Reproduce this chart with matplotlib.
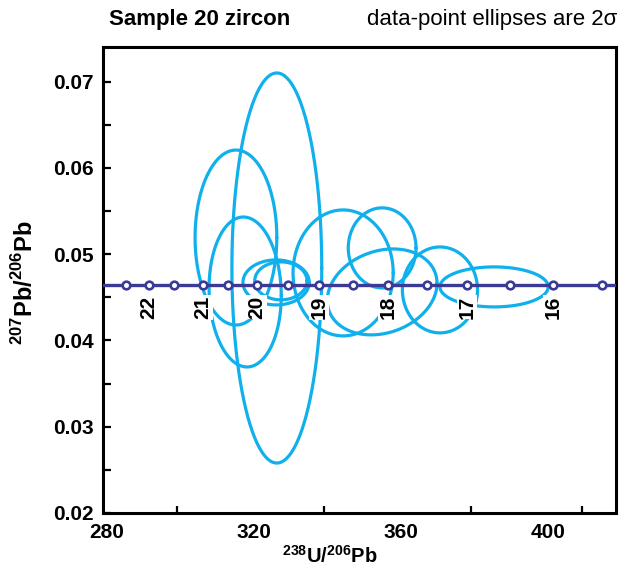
import numpy as np
import matplotlib
matplotlib.use("Agg")
import matplotlib.pyplot as plt
from matplotlib.transforms import ScaledTranslation

plt.rcParams['font.family'] = ['Liberation Sans', 'DejaVu Sans']
plt.rcParams['mathtext.fontset'] = 'custom'
plt.rcParams['mathtext.rm'] = 'Liberation Sans:bold'
plt.rcParams['mathtext.bf'] = 'Liberation Sans:bold'

# ---- data ----
title_left = "Sample 20 zircon"
title_right = "data-point ellipses are 2σ"

# concordia tick points (238U/206Pb) every 0.5 Ma, from 22.5 to 15.5 Ma
conc_x = [286.2, 292.5, 299.3, 307.2, 313.9, 321.8, 330.2, 338.6,
          347.9, 357.4, 368.0, 378.8, 390.5, 402.2, 415.5]
conc_y = 0.0464
age_labels = ["22", "21", "20", "19", "18", "17", "16"]
age_label_x = [292.5, 307.2, 321.8, 338.6, 357.4, 378.8, 402.2]

# error ellipses (2 sigma): centre, half-widths, correlation
ell_x = [327.2, 316.1, 318.6, 327.0, 328.3, 345.2, 355.8, 355.8, 371.5, 386.2]
ell_y = [0.04839, 0.05192, 0.04561, 0.04672, 0.04690, 0.04782, 0.05072, 0.04562, 0.04585, 0.04620]
ell_sx = [12.2, 11.1, 9.8, 9.0, 7.1, 13.6, 9.2, 14.9, 10.2, 14.7]
ell_sy = [0.0226, 0.01014, 0.00869, 0.00261, 0.0022, 0.0073, 0.00464, 0.00498, 0.00498, 0.00232]
ell_rho = [0.0, 0.0, -0.05, 0.0, 0.0, 0.0, 0.0, 0.2, 0.0, 0.0]

x_major = [280, 320, 360, 400]
x_minor = [300, 340, 380]
x_extra = [410]
y_major = [0.02, 0.03, 0.04, 0.05, 0.06, 0.07]
y_minor = [0.025, 0.035, 0.045, 0.055, 0.065]

ELL_C = '#10b0ec'
CONC_C = '#3b3a97'

W, H = 631, 581
fig = plt.figure(figsize=(W / 100, H / 100), dpi=100)
ax = fig.add_axes([103 / W, 1 - 513 / H, (616 - 103) / W, (513 - 47) / H])
ax.set_xlim(280, 419.3)
ax.set_ylim(0.02, 0.0740)

t = np.linspace(0, 2 * np.pi, 400)
for cx, cy, sx, sy, r in zip(ell_x, ell_y, ell_sx, ell_sy, ell_rho):
    xs = cx + sx * np.cos(t)
    ys = cy + sy * (r * np.cos(t) + np.sqrt(1 - r * r) * np.sin(t))
    ax.plot(xs, ys, color=ELL_C, lw=2.3, zorder=2, solid_capstyle='round')

ax.axhline(conc_y, color=CONC_C, lw=2.4, zorder=3)
ax.plot(conc_x, [conc_y] * len(conc_x), linestyle='none', marker='o',
        markersize=5.5, markerfacecolor='white', markeredgecolor=CONC_C,
        markeredgewidth=1.9, zorder=4)

for lab, lx in zip(age_labels, age_label_x):
    ax.annotate(lab, xy=(lx, conc_y), xytext=(0, -7.5), textcoords='offset points',
                rotation=90, ha='center', va='top', fontsize=15, fontweight='bold',
                bbox=dict(facecolor='white', edgecolor='none', pad=0.5), zorder=5)

ax.set_xticks(x_major)
ax.set_xticklabels([str(v) for v in x_major])
ax.set_xticks(x_minor + x_extra, minor=True)
ax.set_yticks(y_major)
ax.set_yticklabels(["%.2f" % v for v in y_major])
ax.set_yticks(y_minor, minor=True)

for s in ax.spines.values():
    s.set_linewidth(2.2)
ax.tick_params(axis='both', which='both', direction='in', top=False, right=False,
               width=1.6)
ax.tick_params(axis='x', which='major', length=0, pad=7, labelsize=15)
ax.tick_params(axis='x', which='minor', length=5)
ax.tick_params(axis='y', which='both', length=5.5, pad=7, labelsize=15)
# the tick at 410 is a little taller
for tk in ax.xaxis.get_minor_ticks():
    if abs(tk.get_loc() - x_extra[0]) < 1e-6:
        tk.tick1line.set_markersize(7)
shift = ScaledTranslation(3.5 / 100, 0, fig.dpi_scale_trans)
for lbl in ax.get_xticklabels():
    lbl.set_fontweight('bold')
    lbl.set_transform(lbl.get_transform() + shift)
for lbl in ax.get_yticklabels():
    lbl.set_fontweight('bold')

fig.text(109 / W, 1 - 20 / H, title_left, fontsize=16, fontweight='bold',
         ha='left', va='center')
fig.text(617 / W, 1 - 20 / H, title_right, fontsize=16, ha='right', va='center')

fig.text(330 / W, 1 - 556 / H, r'$^{238}$U/$^{206}$Pb', fontsize=14.5,
         fontweight='bold', ha='center', va='center')
fig.text(25 / W, 1 - 283 / H, r'$^{207}$Pb/$^{206}$Pb', fontsize=17,
         fontweight='bold', ha='center', va='center', rotation=90)

fig.savefig('out.png', dpi=100)
